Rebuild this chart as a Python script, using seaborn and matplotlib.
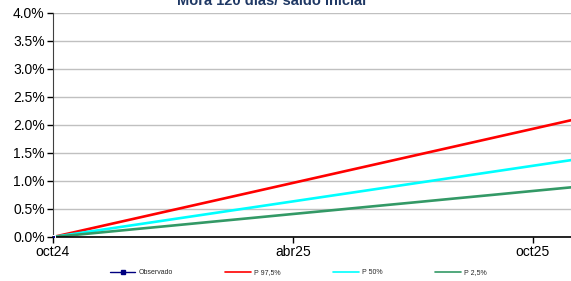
import matplotlib
matplotlib.use("Agg")
import matplotlib.pyplot as plt
import seaborn as sns
import pandas as pd
from matplotlib.ticker import FuncFormatter, MultipleLocator
from matplotlib.lines import Line2D

months = list(range(14))  # oct24 .. nov25
p975 = [0.000, 0.161, 0.322, 0.483, 0.644, 0.805, 0.966, 1.127, 1.288, 1.449, 1.610, 1.771, 1.932, 2.093]
p50 = [0.000, 0.106, 0.212, 0.318, 0.424, 0.530, 0.636, 0.742, 0.848, 0.954, 1.060, 1.166, 1.272, 1.378]
p25 = [0.000, 0.068, 0.137, 0.205, 0.274, 0.342, 0.411, 0.479, 0.548, 0.616, 0.685, 0.753, 0.822, 0.890]
obs_x = [0]
obs_y = [0.0]
tick_pos = [0, 6, 12]
tick_labels = ["oct24", "abr25", "oct25"]
series_names = ["P 97,5%", "P 50%", "P 2,5%"]
colors = {"P 97,5%": "#FF0000", "P 50%": "#00FFFF", "P 2,5%": "#339966"}

sns.set_style("white")
plt.rcParams["font.family"] = ["Liberation Sans", "DejaVu Sans"]

df = pd.DataFrame({
    "mes": months * 3,
    "valor": [v / 100 for v in p975 + p50 + p25],
    "serie": [series_names[0]] * 14 + [series_names[1]] * 14 + [series_names[2]] * 14,
})

fig = plt.figure(figsize=(5.71, 2.81), dpi=100)
ax = fig.add_axes([53 / 571, 1 - 237 / 281, 1 - 53 / 571, 224 / 281])

sns.lineplot(data=df, x="mes", y="valor", hue="serie", palette=colors,
             linewidth=1.9, ax=ax, legend=False)
sns.lineplot(x=obs_x, y=[v / 100 for v in obs_y], ax=ax, color="#000080",
             marker="s", markersize=3.5, linewidth=1, legend=False, zorder=5)

ax.set_xlim(0, 12.95)
ax.set_ylim(0, 0.04)
ax.yaxis.set_major_locator(MultipleLocator(0.005))
ax.yaxis.set_major_formatter(FuncFormatter(lambda v, p: f"{v*100:.1f}%"))
ax.set_xticks(tick_pos)
ax.set_xticklabels(tick_labels)
ax.grid(axis="y", color="#C0C0C0", linewidth=1)
ax.set_axisbelow(True)
ax.set_xlabel("")
ax.set_ylabel("")
for s in ["top", "right"]:
    ax.spines[s].set_visible(False)
ax.spines["left"].set_color("#404040")
ax.spines["bottom"].set_color("#000000")
ax.spines["bottom"].set_linewidth(1.2)
ax.tick_params(axis="both", direction="out", length=4, width=1, labelsize=10,
               colors="#000000", pad=2, bottom=True, left=True)

fig.text(272 / 571, 1 - 5 / 281, "Mora 120 días/ saldo inicial", ha="center",
         va="baseline", fontsize=10.5, fontweight="bold", color="#1F3864")

handles = [Line2D([0], [0], color="#000080", marker="s", markersize=3, linewidth=1)]
handles += [Line2D([0], [0], color=colors[n], linewidth=1.2) for n in series_names]
labels = ["Observado"] + series_names
fig.legend(handles, labels, loc="center", bbox_to_anchor=(298 / 571, 1 - 273 / 281),
           ncol=4, frameon=False, fontsize=5, handlelength=3.7, columnspacing=7.6,
           handletextpad=0.4)

fig.savefig("out.png", dpi=100)
